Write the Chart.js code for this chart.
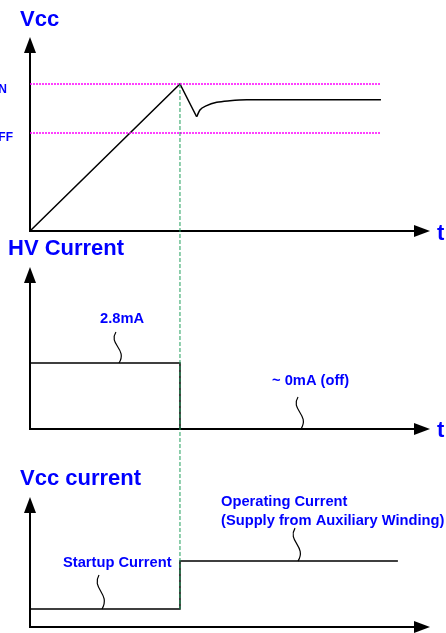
<!DOCTYPE html>
<html>
<head>
<meta charset="utf-8">
<script src="https://cdn.jsdelivr.net/npm/chart.js@4.4.0/dist/chart.umd.min.js"></script>
<style>
body{margin:0;background:#fff;}
#wrap{position:relative;width:446px;height:633px;overflow:hidden;}
#wrap canvas{position:absolute;left:0;top:0;}
</style>
</head>
<body>
<div id="wrap">
<canvas id="vccChart" width="446" height="633"></canvas>
<canvas id="hvChart" width="446" height="633"></canvas>
<canvas id="icChart" width="446" height="633"></canvas>
</div>
<script>
// time axis, t = 1 is where Vcc reaches Vcc(on)
const tEnd = 2.667;
const tOn = 1;

// Vcc (V)
const vccMax = 19.8;
const vccOn = 15;
const vccOff = 10;
const thresholdT = [0, 2.34];
const vccRampT = [0, 1, 1.111];
const vccRampV = [0, 15, 11.66];
const vccRecoverT = [1.111, 1.133, 1.178, 1.245, 1.333, 1.445, 2.34];
const vccRecoverV = [11.66, 12.35, 12.79, 13.13, 13.3, 13.4, 13.4];

// HV current (mA)
const hvMax = 6.87;
const hvT = [0, 1, 1, 2.5];
const hvI = [2.8, 2.8, 0, 0];

// Vcc current (mA)
const icMax = 2.17;
const icStartup = 0.3;
const icOperating = 1.1;
const icT = [0, 1, 1, 2.453];
const icI = [icStartup, icStartup, icOperating, icOperating];

const FONT = '"Liberation Sans", Arial, sans-serif';
const BLUE = '#0000ff';

function pts(xs, ys) {
    return xs.map((x, i) => ({x: x, y: ys[i]}));
}

function lineSet(data, extra) {
    return Object.assign({
        data: data,
        borderColor: '#000',
        borderWidth: 1.5,
        pointRadius: 0,
        tension: 0,
        fill: false
    }, extra || {});
}

const axisArrows = {
    id: 'axisArrows',
    beforeDatasetsDraw(chart) {
        const ctx = chart.ctx;
        const a = chart.chartArea;
        ctx.save();
        ctx.strokeStyle = '#000';
        ctx.lineWidth = 2;
        ctx.beginPath();
        ctx.moveTo(a.left, a.top + 14);
        ctx.lineTo(a.left, a.bottom);
        ctx.lineTo(a.right - 14, a.bottom);
        ctx.stroke();
        ctx.fillStyle = '#000';
        ctx.beginPath();
        ctx.moveTo(a.left, a.top);
        ctx.lineTo(a.left - 6, a.top + 16);
        ctx.lineTo(a.left + 6, a.top + 16);
        ctx.closePath();
        ctx.fill();
        ctx.beginPath();
        ctx.moveTo(a.right, a.bottom);
        ctx.lineTo(a.right - 16, a.bottom - 6);
        ctx.lineTo(a.right - 16, a.bottom + 6);
        ctx.closePath();
        ctx.fill();
        ctx.restore();
    }
};

// texts: [text, x, baseline, size]; squiggles: [t, value, height]
function notes(texts, squiggles) {
    return {
        id: 'notes',
        afterDatasetsDraw(chart) {
            const ctx = chart.ctx;
            ctx.save();
            ctx.fillStyle = BLUE;
            ctx.textBaseline = 'alphabetic';
            texts.forEach(t => {
                ctx.font = 'bold ' + t[3] + 'px ' + FONT;
                ctx.fillText(t[0], t[1], t[2]);
            });
            ctx.strokeStyle = '#000';
            ctx.lineWidth = 1.2;
            squiggles.forEach(s => {
                const xb = chart.scales.x.getPixelForValue(s[0]);
                const yb = chart.scales.y.getPixelForValue(s[1]);
                const h = s[2];
                ctx.beginPath();
                ctx.moveTo(xb - 3, yb - h);
                ctx.bezierCurveTo(xb - 11, yb - h * 0.6, xb + 9, yb - h * 0.45, xb, yb);
                ctx.stroke();
            });
            ctx.restore();
        }
    };
}

function makeChart(id, datasets, yMax, padTop, padBottom, plugins) {
    return new Chart(document.getElementById(id), {
        type: 'line',
        data: {datasets: datasets},
        options: {
            responsive: false,
            animation: false,
            devicePixelRatio: 1,
            layout: {padding: {left: 30, right: 16, top: padTop, bottom: padBottom}},
            scales: {
                x: {type: 'linear', min: 0, max: tEnd, display: false},
                y: {type: 'linear', min: 0, max: yMax, display: false}
            },
            plugins: {legend: {display: false}, tooltip: {enabled: false}},
            elements: {line: {capBezierPoints: false}}
        },
        plugins: [axisArrows].concat(plugins)
    });
}

const vccChart = makeChart('vccChart', [
    lineSet(pts(thresholdT, [vccOn, vccOn]), {borderColor: '#ff00ff', borderDash: [2, 1], borderWidth: 1.5}),
    lineSet(pts(thresholdT, [vccOff, vccOff]), {borderColor: '#ff00ff', borderDash: [2, 1], borderWidth: 1.5}),
    lineSet(pts(vccRampT, vccRampV)),
    lineSet(pts(vccRecoverT, vccRecoverV), {cubicInterpolationMode: 'monotone'})
], vccMax, 37, 402, [notes([
    ['Vcc', 20, 26, 22],
    ['ON', -11, 93, 12],
    ['OFF', -11, 141, 12],
    ['t', 437, 240, 22]
], [])]);

const hvChart = makeChart('hvChart', [
    lineSet(pts(hvT, hvI))
], hvMax, 267, 204, [notes([
    ['HV Current', 8, 255, 22],
    ['2.8mA', 100, 323, 14.7],
    ['~ 0mA (off)', 272, 385, 14.7],
    ['t', 437, 437, 22]
], [[0.593, 2.8, 31], [1.807, 0, 32]])]);

const onLine = {
    id: 'onLine',
    afterDatasetsDraw(chart) {
        const ctx = chart.ctx;
        const x = chart.scales.x.getPixelForValue(tOn);
        const yTop = vccChart.scales.y.getPixelForValue(vccOn);
        const yBot = chart.scales.y.getPixelForValue(icStartup);
        ctx.save();
        ctx.strokeStyle = '#1e9e5a';
        ctx.lineWidth = 1;
        ctx.setLineDash([4, 2]);
        ctx.beginPath();
        ctx.moveTo(x, yTop);
        ctx.lineTo(x, yBot);
        ctx.stroke();
        ctx.restore();
    }
};

const icChart = makeChart('icChart', [
    lineSet(pts(icT, icI))
], icMax, 497, 6, [notes([
    ['Vcc current', 20, 485, 22],
    ['Startup Current', 63, 567, 14.7],
    ['Operating Current', 221, 506, 14.7],
    ['(Supply from Auxiliary Winding)', 221, 525, 14.7]
], [[0.48, icStartup, 34], [1.787, icOperating, 33]]), onLine]);
</script>
</body>
</html>
